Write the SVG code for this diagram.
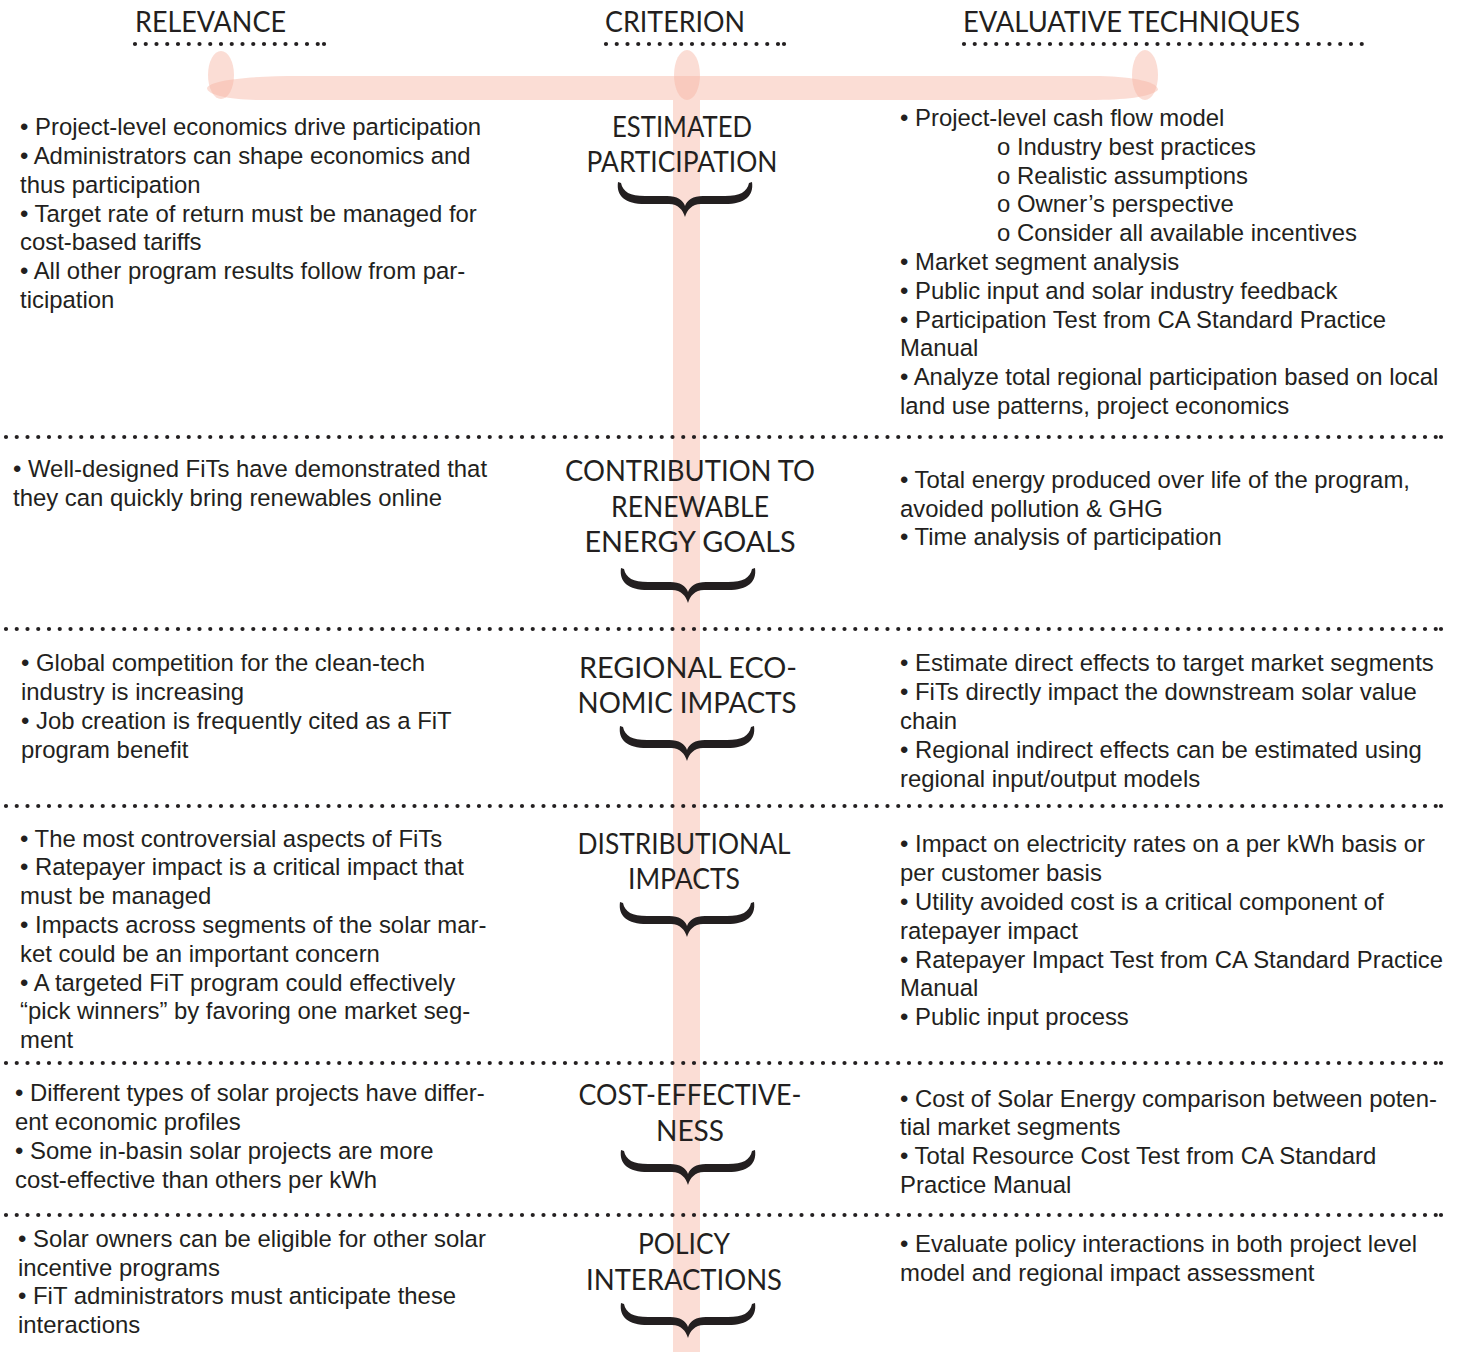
<svg xmlns="http://www.w3.org/2000/svg" width="1460" height="1352" viewBox="0 0 1460 1352">
<style>
.bar{fill:#f6b4a2;fill-opacity:0.45}
.hd{font-family:Lato,"Liberation Sans",sans-serif;font-size:28px;fill:#231f20;font-weight:400}
.ct{font-family:Lato,"Liberation Sans",sans-serif;font-size:28px;fill:#231f20;text-anchor:middle}
.tx{font-family:"Liberation Sans",Arial,sans-serif;font-size:23.9px;fill:#231f20}
.dot{stroke:#231f20;stroke-width:4.2;stroke-linecap:round;stroke-dasharray:0 10.75;fill:none}
.brace{fill:#231f20}
</style>
<defs>
<path id="br" d="M-67,0 C-69,14 -60,22 -40,22 L-16,22 C-7,22 -2,28 0,35 C2,28 7,22 16,22 L40,22 C60,22 69,14 67,0 L64,1 C62,10 55,14 40,14 L18,14 C8,14 2,18 0,24 C-2,18 -8,14 -18,14 L-40,14 C-55,14 -62,10 -64,1 Z"/>
</defs>
<g id="backbone">
<path class="bar" d="M207,88 C210,80 250,76 300,76 L1100,76 C1135,77 1158,82 1158,90 C1150,97 1125,100 1090,100 L260,100 C230,100 207,95 207,88 Z"/>
<ellipse class="bar" cx="221" cy="75" rx="13" ry="24"/>
<ellipse class="bar" cx="687" cy="75" rx="13" ry="25"/>
<ellipse class="bar" cx="1145" cy="75" rx="13" ry="25"/>
<rect class="bar" x="673" y="100" width="27" height="1252"/>
</g>
<g id="connectors">
<line class="dot" x1="135" y1="44" x2="319" y2="44"/><circle cx="324" cy="44" r="2.1" fill="#231f20"/>
<line class="dot" x1="606" y1="44" x2="779" y2="44"/><circle cx="784" cy="44" r="2.1" fill="#231f20"/>
<line class="dot" x1="964" y1="44" x2="1370" y2="44"/>
<line class="dot" x1="6" y1="437" x2="1436" y2="437"/><circle cx="1441" cy="437" r="2.1" fill="#231f20"/>
<line class="dot" x1="6" y1="629" x2="1436" y2="629"/><circle cx="1441" cy="629" r="2.1" fill="#231f20"/>
<line class="dot" x1="6" y1="806" x2="1436" y2="806"/><circle cx="1441" cy="806" r="2.1" fill="#231f20"/>
<line class="dot" x1="6" y1="1063" x2="1436" y2="1063"/><circle cx="1441" cy="1063" r="2.1" fill="#231f20"/>
<line class="dot" x1="6" y1="1215" x2="1436" y2="1215"/><circle cx="1441" cy="1215" r="2.1" fill="#231f20"/>
</g>
<g id="headers">
<text class="hd" x="135" y="32" textLength="151" lengthAdjust="spacingAndGlyphs">RELEVANCE</text>
<text class="hd" x="605" y="32" textLength="140" lengthAdjust="spacingAndGlyphs">CRITERION</text>
<text class="hd" x="963" y="32" textLength="337" lengthAdjust="spacingAndGlyphs">EVALUATIVE TECHNIQUES</text>
</g>
<g id="c1">
<text class="ct" x="682" y="137" textLength="140" lengthAdjust="spacingAndGlyphs">ESTIMATED</text>
<text class="ct" x="682" y="172" textLength="191" lengthAdjust="spacingAndGlyphs">PARTICIPATION</text>
<use href="#br" class="brace" x="685" y="182"/>
</g>
<g id="c2">
<text class="ct" x="690" y="481" textLength="250" lengthAdjust="spacingAndGlyphs">CONTRIBUTION TO</text>
<text class="ct" x="690" y="517" textLength="158" lengthAdjust="spacingAndGlyphs">RENEWABLE</text>
<text class="ct" x="690" y="552" textLength="211" lengthAdjust="spacingAndGlyphs">ENERGY GOALS</text>
<use href="#br" class="brace" x="688" y="568"/>
</g>
<g id="c3">
<text class="ct" x="688" y="678" textLength="218" lengthAdjust="spacingAndGlyphs">REGIONAL ECO-</text>
<text class="ct" x="687" y="713" textLength="219" lengthAdjust="spacingAndGlyphs">NOMIC IMPACTS</text>
<use href="#br" class="brace" x="687" y="726"/>
</g>
<g id="c4">
<text class="ct" x="684" y="854" textLength="213" lengthAdjust="spacingAndGlyphs">DISTRIBUTIONAL</text>
<text class="ct" x="684" y="889" textLength="112" lengthAdjust="spacingAndGlyphs">IMPACTS</text>
<use href="#br" class="brace" x="687" y="902"/>
</g>
<g id="c5">
<text class="ct" x="690" y="1105" textLength="223" lengthAdjust="spacingAndGlyphs">COST-EFFECTIVE-</text>
<text class="ct" x="690" y="1141" textLength="68" lengthAdjust="spacingAndGlyphs">NESS</text>
<use href="#br" class="brace" x="688" y="1150"/>
</g>
<g id="c6">
<text class="ct" x="684" y="1254" textLength="92" lengthAdjust="spacingAndGlyphs">POLICY</text>
<text class="ct" x="684" y="1290" textLength="196" lengthAdjust="spacingAndGlyphs">INTERACTIONS</text>
<use href="#br" class="brace" x="688" y="1303"/>
</g>
<g id="relevance">
<text class="tx" x="20" y="135">• Project-level economics drive participation</text>
<text class="tx" x="20" y="164">• Administrators can shape economics and</text>
<text class="tx" x="20" y="193">thus participation</text>
<text class="tx" x="20" y="222">• Target rate of return must be managed for</text>
<text class="tx" x="20" y="250">cost-based tariffs</text>
<text class="tx" x="20" y="279">• All other program results follow from par-</text>
<text class="tx" x="20" y="308">ticipation</text>
<text class="tx" x="13" y="477">• Well-designed FiTs have demonstrated that</text>
<text class="tx" x="13" y="506">they can quickly bring renewables online</text>
<text class="tx" x="21" y="671">• Global competition for the clean-tech</text>
<text class="tx" x="21" y="700">industry is increasing</text>
<text class="tx" x="21" y="729">• Job creation is frequently cited as a FiT</text>
<text class="tx" x="21" y="758">program benefit</text>
<text class="tx" x="20" y="847">• The most controversial aspects of FiTs</text>
<text class="tx" x="20" y="875">• Ratepayer impact is a critical impact that</text>
<text class="tx" x="20" y="904">must be managed</text>
<text class="tx" x="20" y="933">• Impacts across segments of the solar mar-</text>
<text class="tx" x="20" y="962">ket could be an important concern</text>
<text class="tx" x="20" y="991">• A targeted FiT program could effectively</text>
<text class="tx" x="20" y="1019">“pick winners” by favoring one market seg-</text>
<text class="tx" x="20" y="1048">ment</text>
<text class="tx" x="15" y="1101">• Different types of solar projects have differ-</text>
<text class="tx" x="15" y="1130">ent economic profiles</text>
<text class="tx" x="15" y="1159">• Some in-basin solar projects are more</text>
<text class="tx" x="15" y="1188">cost-effective than others per kWh</text>
<text class="tx" x="18" y="1247">• Solar owners can be eligible for other solar</text>
<text class="tx" x="18" y="1276">incentive programs</text>
<text class="tx" x="18" y="1304">• FiT administrators must anticipate these</text>
<text class="tx" x="18" y="1333">interactions</text>
</g>
<g id="techniques">
<text class="tx" x="900" y="126">• Project-level cash flow model</text>
<text class="tx" x="997" y="155">o Industry best practices</text>
<text class="tx" x="997" y="184">o Realistic assumptions</text>
<text class="tx" x="997" y="212">o Owner’s perspective</text>
<text class="tx" x="997" y="241">o Consider all available incentives</text>
<text class="tx" x="900" y="270">• Market segment analysis</text>
<text class="tx" x="900" y="299">• Public input and solar industry feedback</text>
<text class="tx" x="900" y="328">• Participation Test from CA Standard Practice</text>
<text class="tx" x="900" y="356">Manual</text>
<text class="tx" x="900" y="385">• Analyze total regional participation based on local</text>
<text class="tx" x="900" y="414">land use patterns, project economics</text>
<text class="tx" x="900" y="488">• Total energy produced over life of the program,</text>
<text class="tx" x="900" y="517">avoided pollution &amp; GHG</text>
<text class="tx" x="900" y="545">• Time analysis of participation</text>
<text class="tx" x="900" y="671">• Estimate direct effects to target market segments</text>
<text class="tx" x="900" y="700">• FiTs directly impact the downstream solar value</text>
<text class="tx" x="900" y="729">chain</text>
<text class="tx" x="900" y="758">• Regional indirect effects can be estimated using</text>
<text class="tx" x="900" y="787">regional input/output models</text>
<text class="tx" x="900" y="852">• Impact on electricity rates on a per kWh basis or</text>
<text class="tx" x="900" y="881">per customer basis</text>
<text class="tx" x="900" y="910">• Utility avoided cost is a critical component of</text>
<text class="tx" x="900" y="939">ratepayer impact</text>
<text class="tx" x="900" y="968">• Ratepayer Impact Test from CA Standard Practice</text>
<text class="tx" x="900" y="996">Manual</text>
<text class="tx" x="900" y="1025">• Public input process</text>
<text class="tx" x="900" y="1107">• Cost of Solar Energy comparison between poten-</text>
<text class="tx" x="900" y="1135">tial market segments</text>
<text class="tx" x="900" y="1164">• Total Resource Cost Test from CA Standard</text>
<text class="tx" x="900" y="1193">Practice Manual</text>
<text class="tx" x="900" y="1252">• Evaluate policy interactions in both project level</text>
<text class="tx" x="900" y="1281">model and regional impact assessment</text>
</g>
</svg>
